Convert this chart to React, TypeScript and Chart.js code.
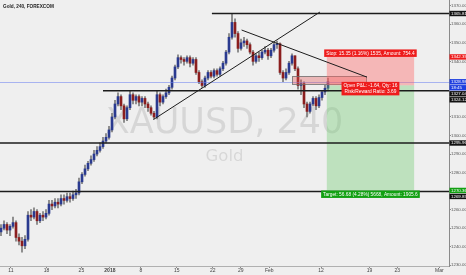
import React, { useEffect, useRef } from 'react';
import { Chart, registerables } from 'chart.js';

Chart.register(...registerables);

const FONT = '"Liberation Sans", Arial, sans-serif';
const WM_FONT = '"DejaVu Sans", "Liberation Sans", sans-serif';

// ---- candle data (4h bars) ----
const firstOpen = 1248;
const closes = [
  1250, 1252, 1249, 1251, 1253, 1245, 1243, 1240.5, 1244, 1257,
  1256, 1259, 1254, 1257, 1256, 1258, 1263, 1262, 1264, 1263,
  1266, 1265, 1267, 1266, 1268, 1269, 1275, 1279, 1282, 1285,
  1287, 1290, 1292, 1294, 1297, 1299, 1303, 1310, 1317, 1321,
  1316, 1309, 1315, 1322, 1319, 1321, 1318, 1320, 1317, 1315,
  1312, 1310, 1322, 1318, 1321, 1323, 1326, 1331, 1337, 1342,
  1341, 1340, 1342, 1339, 1341, 1334, 1329, 1327, 1331, 1334,
  1332, 1335, 1333, 1336, 1339, 1345, 1353, 1361, 1355, 1347,
  1350, 1351, 1349, 1345, 1340, 1343, 1342, 1345, 1346, 1343,
  1346, 1349, 1349.5, 1334, 1331, 1334, 1339, 1343, 1336, 1327,
  1328, 1317, 1313, 1317, 1320, 1316, 1320.5, 1323.5, 1325.5, 1329,
];
const highs = [
  1252, 1254, 1253, 1252, 1256, 1254, 1247, 1245, 1246, 1259,
  1260, 1261, 1260, 1258, 1259, 1260, 1265, 1265, 1266, 1266,
  1268, 1268, 1269, 1269, 1270, 1271, 1277, 1280, 1284, 1286,
  1289, 1292, 1294, 1296, 1299, 1301, 1305, 1312, 1319, 1323,
  1322, 1317, 1316, 1324, 1323, 1322, 1322, 1321, 1321, 1318,
  1316, 1313, 1324, 1323, 1322, 1325, 1327, 1332, 1338, 1343.5,
  1343, 1342, 1343, 1343, 1342, 1342, 1335, 1330, 1332, 1335,
  1335, 1336, 1336, 1337, 1340, 1346, 1355, 1365.8, 1363, 1356,
  1352, 1353, 1352, 1350, 1346, 1344, 1345, 1346, 1348, 1347,
  1347, 1350, 1351, 1350, 1335, 1336, 1340, 1344, 1343, 1337,
  1330, 1329, 1318, 1318, 1321, 1321, 1322, 1324, 1327, 1331,
];
const lows = [
  1246, 1249, 1247, 1246, 1250, 1243, 1241, 1237, 1239, 1243,
  1254, 1255, 1252, 1253, 1254, 1255, 1257, 1260, 1261, 1261,
  1262, 1263, 1264, 1264, 1265, 1266, 1268, 1274, 1278, 1281,
  1284, 1286, 1289, 1291, 1293, 1296, 1298, 1302, 1309, 1316,
  1314, 1307, 1308, 1314, 1317, 1317, 1316, 1316, 1315, 1313,
  1311, 1309, 1309, 1316, 1317, 1320, 1322, 1325, 1330, 1336,
  1339, 1338, 1339, 1337, 1338, 1333, 1328, 1326, 1326, 1330,
  1331, 1331, 1332, 1332, 1335, 1338, 1344, 1352, 1353, 1345,
  1346, 1348, 1347, 1344, 1338, 1339, 1340, 1341, 1344, 1341,
  1342, 1345, 1347, 1333, 1329, 1330, 1333, 1338, 1335, 1325,
  1322, 1315, 1310, 1312, 1316, 1314, 1315, 1319, 1322, 1324,
];

// ---- axes ----
const xMin = -1 / 3;
const xMax = 149.33;
const yMin = 1229.6;
const yMax = 1373.1;
const xTickIndex = [3.3, 15.2, 26.8, 36.3, 46.6, 58.6, 70.6, 79.9, 89.4, 106.7, 122.8, 132.1, 146.1];
const xTickLabels = ['11', '18', '25', '2018', '8', '15', '22', '29', 'Feb', '12', '19', '23', 'Mar'];
const boldTickLabels = ['2018'];
const hiddenPriceTicks = [1330, 1320, 1270];

// ---- drawings ----
const title = 'Gold, 240, FOREXCOM';
const watermarkMain = 'XAUUSD, 240';
const watermarkSub = 'Gold';

const hLinePrices = [1365.81, 1324.12, 1295.96, 1269.85];
const hLineStartIndex = [70.3, 34.0, -1, -1];

const trendStartIndex = [50.8, 80.2];
const trendStartPrice = [1308.6, 1356.9];
const trendEndIndex = [106.3, 122.0];
const trendEndPrice = [1366.6, 1331.5];

const zoneIndex = [97.0, 121.7];
const zonePrice = [1332.0, 1327.6];

const positionIndex = [108.6, 137.7];
const entryPrice = 1327.04;
const stopPrice = 1342.39;
const targetPrice = 1270.36;
const stopText = 'Stop: 15.35 (1.16%) 1535, Amount: 754.4';
const targetText = 'Target: 56.68 (4.28%) 5668, Amount: 1905.6';
const midTexts = ['Open P&L: -1.64, Qty: 16', 'Risk/Reward Ratio: 3.69'];

const lastPrice = 1328.98;

const axisLabelPrices = [1365.81, 1342.39, 1328.98, 1328.98, 1327.04, 1324.12, 1295.96, 1270.36, 1269.85];
const axisLabelTexts = ['1365.81', '1342.39', '1328.98', '18:45', '1327.04', '1324.12', '1295.96', '1270.36', '1269.85'];
const axisLabelColors = ['#111111', '#ee1c1c', '#1f3fe0', '#1f3fe0', '#111111', '#111111', '#111111', '#12a012', '#111111'];

const UP = '#2a3a8f';
const DOWN = '#8b1e1e';
const WICK = '#7a7a7a';

const overlayPlugin = {
  id: 'tvOverlay',
  beforeDatasetsDraw(chart: any) {
    const { ctx, chartArea: a } = chart;
    ctx.save();
    ctx.fillStyle = 'rgba(0,0,0,0.1)';
    ctx.textAlign = 'center';
    ctx.textBaseline = 'alphabetic';
    const cx = (a.left + a.right) / 2;
    const cy = (a.top + a.bottom) / 2;
    ctx.font = `35px ${WM_FONT}`;
    ctx.fillText(watermarkMain, cx, cy);
    ctx.font = `16.5px ${WM_FONT}`;
    ctx.fillText(watermarkSub, cx, cy + 27.5);
    ctx.restore();
  },
  afterDatasetsDraw(chart: any) {
    const { ctx, chartArea: a, scales } = chart;
    const px = (v: number) => scales.x.getPixelForValue(v);
    const py = (v: number) => scales.y.getPixelForValue(v);
    ctx.save();
    ctx.beginPath();
    ctx.rect(a.left, a.top, a.right - a.left, a.bottom - a.top);
    ctx.clip();

    // last price line
    ctx.strokeStyle = 'rgba(110,130,240,0.55)';
    ctx.lineWidth = 1;
    const ly = Math.round(py(lastPrice)) + 0.5;
    ctx.beginPath();
    ctx.moveTo(a.left, ly);
    ctx.lineTo(a.right, ly);
    ctx.stroke();

    // zone rectangle
    const zx0 = px(zoneIndex[0]);
    const zx1 = px(zoneIndex[1]);
    const zy0 = py(zonePrice[0]);
    const zy1 = py(zonePrice[1]);
    ctx.fillStyle = 'rgba(230,80,80,0.35)';
    ctx.fillRect(zx0, zy0, zx1 - zx0, zy1 - zy0);
    ctx.strokeStyle = 'rgba(110,110,110,0.8)';
    ctx.strokeRect(Math.round(zx0) + 0.5, Math.round(zy0) + 0.5, Math.round(zx1 - zx0), Math.round(zy1 - zy0));

    // long position tool
    const pl = px(positionIndex[0]);
    const pr = px(positionIndex[1]);
    const ye = py(entryPrice);
    const ys = py(stopPrice);
    const yt = py(targetPrice);
    ctx.fillStyle = 'rgba(255,100,100,0.4)';
    ctx.fillRect(pl, ys, pr - pl, ye - ys);
    ctx.fillStyle = 'rgba(100,200,100,0.35)';
    ctx.fillRect(pl, ye, pr - pl, yt - ye);

    // horizontal lines
    ctx.strokeStyle = '#1c1c1c';
    ctx.lineWidth = 1.5;
    hLinePrices.forEach((p, i) => {
      const yy = py(p);
      ctx.beginPath();
      ctx.moveTo(Math.max(a.left, px(hLineStartIndex[i])), yy);
      ctx.lineTo(a.right, yy);
      ctx.stroke();
    });

    // trend lines
    ctx.strokeStyle = '#1c1c1c';
    ctx.lineWidth = 1;
    trendStartIndex.forEach((s, i) => {
      ctx.beginPath();
      ctx.moveTo(px(s), py(trendStartPrice[i]));
      ctx.lineTo(px(trendEndIndex[i]), py(trendEndPrice[i]));
      ctx.stroke();
    });
    ctx.restore();

    // position labels
    ctx.save();
    const cx = (pl + pr) / 2;
    ctx.font = `4.8px ${FONT}`;
    ctx.textAlign = 'center';
    ctx.textBaseline = 'middle';
    const drawLabel = (lines: string[], top: number, bg: string) => {
      const w = Math.max(...lines.map((t) => ctx.measureText(t).width)) + 4;
      const h = lines.length * 6 + 1.5;
      ctx.fillStyle = bg;
      ctx.fillRect(cx - w / 2, top, w, h);
      ctx.fillStyle = '#ffffff';
      lines.forEach((t, i) => ctx.fillText(t, cx, top + 3.9 + i * 6));
    };
    drawLabel([stopText], ys - 7.5, '#ee1c1c');
    drawLabel([targetText], yt, '#12a012');
    drawLabel(midTexts, ye - 3.5, '#ee1c1c');
    ctx.restore();
  },
  afterDraw(chart: any) {
    const { ctx, chartArea: a, scales } = chart;
    ctx.save();
    // title
    ctx.font = `bold 4.7px ${FONT}`;
    ctx.fillStyle = '#222';
    ctx.textAlign = 'left';
    ctx.textBaseline = 'alphabetic';
    ctx.fillText(title, 3, 7.5);

    // price axis labels
    const H = 6;
    const items = axisLabelPrices
      .map((p, i) => ({ y: scales.y.getPixelForValue(p), i }))
      .sort((m, n) => m.y - n.y || m.i - n.i);
    let prev = -Infinity;
    items.forEach((it) => {
      if (it.y < prev + H) it.y = prev + H;
      prev = it.y;
    });
    ctx.font = `4.4px ${FONT}`;
    ctx.textBaseline = 'middle';
    items.forEach((it) => {
      ctx.fillStyle = axisLabelColors[it.i];
      ctx.fillRect(a.right + 0.5, it.y - H / 2 + 0.3, chart.width - a.right, H - 0.6);
      ctx.fillStyle = '#ffffff';
      ctx.fillText(axisLabelTexts[it.i], a.right + 2, it.y + 0.3);
    });
    ctx.restore();
  },
};

export default function App() {
  const ref = useRef<HTMLCanvasElement>(null);
  useEffect(() => {
    const canvas = ref.current;
    if (!canvas) return;
    const opens = closes.map((_, i) => (i === 0 ? firstOpen : closes[i - 1]));
    const colors = closes.map((c, i) => (c >= opens[i] ? UP : DOWN));
    const chart = new Chart(canvas, {
      type: 'bar',
      data: {
        datasets: [
          {
            label: 'body',
            data: closes.map((c, i) => ({ x: i, y: [opens[i], c] })) as any,
            backgroundColor: colors,
            borderWidth: 0,
            barThickness: 2,
            minBarLength: 1,
            grouped: false,
            order: 0,
          } as any,
          {
            label: 'wick',
            data: closes.map((_, i) => ({ x: i, y: [lows[i], highs[i]] })) as any,
            backgroundColor: WICK,
            borderWidth: 0,
            barThickness: 1,
            grouped: false,
            order: 1,
          } as any,
        ],
      },
      options: {
        responsive: false,
        animation: false,
        devicePixelRatio: 1,
        events: [],
        layout: { padding: 0 },
        plugins: {
          legend: { display: false },
          tooltip: { enabled: false },
        },
        scales: {
          x: {
            type: 'linear',
            min: xMin,
            max: xMax,
            offset: false,
            grid: { display: true, drawOnChartArea: false, drawTicks: true, tickLength: 2, color: '#8a8a8a', offset: false },
            border: { display: true, color: '#b0b0b0' },
            afterBuildTicks: (s: any) => {
              s.ticks = xTickIndex.map((v) => ({ value: v }));
            },
            afterFit: (s: any) => {
              s.height = 9;
              s.paddingLeft = 0;
              s.paddingRight = 0;
            },
            ticks: {
              autoSkip: false,
              maxRotation: 0,
              padding: 0,
              color: '#444',
              font: (c: any) => ({
                size: 5,
                family: FONT,
                weight: c.tick && boldTickLabels.includes(xTickLabels[xTickIndex.indexOf(c.tick.value)]) ? 'bold' : 'normal',
              }),
              callback: (_v: any, i: number) => xTickLabels[i] ?? '',
            },
          } as any,
          y: {
            type: 'linear',
            position: 'right',
            min: yMin,
            max: yMax,
            grid: { display: true, drawOnChartArea: false, drawTicks: true, tickLength: 2, color: '#8a8a8a' },
            border: { display: true, color: '#8a8a8a' },
            afterFit: (s: any) => {
              s.width = 17;
              s.paddingTop = 0;
              s.paddingBottom = 0;
            },
            ticks: {
              stepSize: 10,
              includeBounds: false,
              autoSkip: false,
              padding: 0,
              color: '#555',
              font: { size: 4.4, family: FONT },
              callback: (v: any) => (hiddenPriceTicks.includes(Number(v)) ? '' : Number(v).toFixed(2)),
            },
          } as any,
        },
      },
      plugins: [overlayPlugin],
    });
    return () => chart.destroy();
  }, []);

  return (
    <div style={{ position: 'fixed', left: 0, top: 0, width: 466, height: 275, background: '#efefef' }}>
      <canvas ref={ref} width={466} height={275} style={{ display: 'block', width: 466, height: 275 }} />
    </div>
  );
}
